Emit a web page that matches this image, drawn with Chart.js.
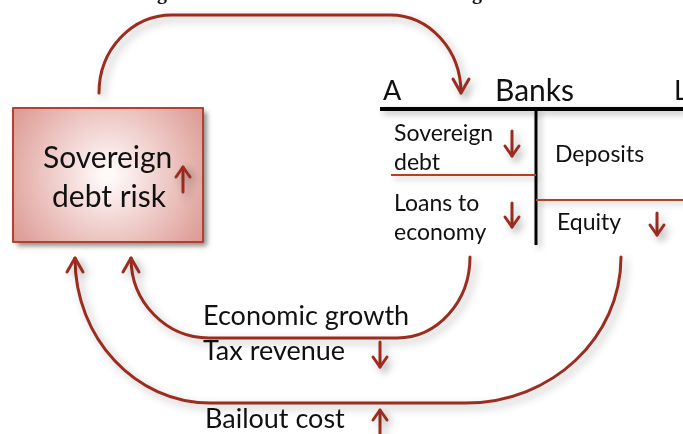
<!DOCTYPE html>
<html>
<head>
<meta charset="utf-8">
<script src="https://cdn.jsdelivr.net/npm/chart.js@4"></script>
<style>
  html, body { margin: 0; padding: 0; background: #fff; }
  canvas { display: block; }
</style>
</head>
<body>
<canvas id="loop" width="683" height="434"></canvas>
<script>
// Feedback loops between sovereign risk and banks (diagram coordinates, y grows downward)
const topLinkX = [99, 99, 461, 461];
const topLinkY = [93, 15, 15, 93];
const topLinkBends = [[78, 73], [71, 78]];

const growthLinkX = [470, 470, 131, 131];
const growthLinkY = [257, 338, 338, 258];
const growthLinkBends = [[81, 73], [78, 80]];

const bailoutLinkX = [621, 621, 75, 75];
const bailoutLinkY = [257, 403, 403, 258];
const bailoutLinkBends = [[146, 155], [135, 145]];

// little up / down arrows: x, y of tail, y of tip
const moveX    = [183, 512, 512, 657, 380, 380];
const moveTail = [192, 131, 203, 213, 342, 440];
const moveTip  = [167, 156, 227, 235, 367, 410];

// balance sheet text
const bankTitle = ['A', 'Banks', 'L'];
const assetLabels = [['Sovereign', 'debt'], ['Loans to', 'economy']];
const liabilityLabels = ['Deposits', 'Equity'];
const riskLabel = ['Sovereign', 'debt risk'];
const channelLabels = ['Economic growth', 'Tax revenue', 'Bailout cost'];

const RED = '#9d2c1f';
const K = 0.5523;

const diagramPlugin = {
  id: 'diagram',
  afterDatasetsDraw(chart) {
    const ctx = chart.ctx;
    const xs = chart.scales.x, ys = chart.scales.y;
    const px = v => xs.getPixelForValue(v);
    const py = v => ys.getPixelForValue(v);
    const unitPx = px(1) - px(0);

    function shadow(on, blur, off, col) {
      ctx.shadowColor = on ? (col || 'rgba(0,0,0,0.35)') : 'transparent';
      ctx.shadowBlur = on ? blur : 0;
      ctx.shadowOffsetX = on ? off : 0;
      ctx.shadowOffsetY = on ? off : 0;
    }

    function chevron(tx, ty, dx, dy, len, half) {
      const nx = -dy, ny = dx;
      ctx.beginPath();
      ctx.moveTo(tx - dx * len + nx * half, ty - dy * len + ny * half);
      ctx.lineTo(tx, ty);
      ctx.lineTo(tx - dx * len - nx * half, ty - dy * len - ny * half);
      ctx.stroke();
    }

    function link(lx, ly, bends) {
      const pts = lx.map((v, i) => [px(v), py(ly[i])]);
      ctx.beginPath();
      ctx.moveTo(pts[0][0], pts[0][1]);
      let lastDir = [0, 1];
      for (let i = 1; i < pts.length - 1; i++) {
        const a = pts[i - 1], c = pts[i], b = pts[i + 1];
        let dIn = [c[0] - a[0], c[1] - a[1]];
        let dOut = [b[0] - c[0], b[1] - c[1]];
        const li = Math.hypot(dIn[0], dIn[1]), lo = Math.hypot(dOut[0], dOut[1]);
        dIn = [dIn[0] / li, dIn[1] / li];
        dOut = [dOut[0] / lo, dOut[1] / lo];
        const rIn = bends[i - 1][0] * unitPx, rOut = bends[i - 1][1] * unitPx;
        const p0 = [c[0] - dIn[0] * rIn, c[1] - dIn[1] * rIn];
        const p3 = [c[0] + dOut[0] * rOut, c[1] + dOut[1] * rOut];
        ctx.lineTo(p0[0], p0[1]);
        ctx.bezierCurveTo(p0[0] + dIn[0] * rIn * K, p0[1] + dIn[1] * rIn * K,
                          p3[0] - dOut[0] * rOut * K, p3[1] - dOut[1] * rOut * K,
                          p3[0], p3[1]);
        lastDir = dOut;
      }
      const end = pts[pts.length - 1];
      ctx.lineTo(end[0], end[1]);
      ctx.stroke();
      chevron(end[0], end[1], lastDir[0], lastDir[1], 14, 8);
    }

    ctx.save();
    ctx.lineCap = 'round';
    ctx.lineJoin = 'round';

    // cut-off title descenders at the very top
    ctx.fillStyle = '#111';
    ctx.font = 'bold 20px "Liberation Serif"';
    ctx.textAlign = 'center';
    ctx.fillText('g', px(162), py(-1));
    ctx.fillText('g', px(477), py(-1));
    ctx.textAlign = 'left';

    // sovereign debt risk box
    const bx0 = px(13), by0 = py(108), bx1 = px(203), by1 = py(242);
    const grad = ctx.createRadialGradient((bx0 + bx1) / 2, (by0 + by1) / 2, 5,
                                          (bx0 + bx1) / 2, (by0 + by1) / 2, 125);
    grad.addColorStop(0, '#fffafa');
    grad.addColorStop(1, '#d98f87');
    shadow(true, 5, 4, 'rgba(0,0,0,0.45)');
    ctx.fillStyle = grad;
    ctx.fillRect(bx0, by0, bx1 - bx0, by1 - by0);
    shadow(false);
    ctx.strokeStyle = '#b3412f';
    ctx.lineWidth = 2;
    ctx.strokeRect(bx0, by0, bx1 - bx0, by1 - by0);

    ctx.fillStyle = '#111';
    ctx.font = '30px Lato';
    ctx.fillText(riskLabel[0], px(43), py(168));
    ctx.fillText(riskLabel[1], px(52), py(207));

    // T-account
    shadow(true, 6, 3, 'rgba(0,0,0,0.3)');
    ctx.strokeStyle = '#000';
    ctx.lineCap = 'butt';
    ctx.lineWidth = 4;
    ctx.beginPath(); ctx.moveTo(px(380), py(109)); ctx.lineTo(px(683), py(109)); ctx.stroke();
    ctx.lineWidth = 3;
    ctx.beginPath(); ctx.moveTo(px(536), py(109)); ctx.lineTo(px(536), py(245)); ctx.stroke();
    ctx.strokeStyle = '#b3431f';
    ctx.lineWidth = 2;
    ctx.beginPath(); ctx.moveTo(px(391), py(175)); ctx.lineTo(px(536), py(175)); ctx.stroke();
    ctx.beginPath(); ctx.moveTo(px(536), py(200)); ctx.lineTo(px(683), py(200)); ctx.stroke();
    shadow(false);

    ctx.fillStyle = '#111';
    ctx.font = '27px Lato';
    ctx.fillText(bankTitle[0], px(383), py(100));
    ctx.font = '30px Lato';
    ctx.fillText(bankTitle[1], px(495), py(101));
    ctx.font = '27px Lato';
    ctx.fillText(bankTitle[2], px(674), py(100));

    ctx.font = '23px Lato';
    ctx.fillText(assetLabels[0][0], px(394), py(141));
    ctx.fillText(assetLabels[0][1], px(394), py(170));
    ctx.fillText(assetLabels[1][0], px(394), py(211));
    ctx.fillText(assetLabels[1][1], px(394), py(240));
    ctx.fillText(liabilityLabels[0], px(555), py(162));
    ctx.fillText(liabilityLabels[1], px(557), py(230));

    ctx.font = '27px Lato';
    ctx.fillText(channelLabels[0], px(203), py(325));
    ctx.fillText(channelLabels[1], px(203), py(360));
    ctx.fillText(channelLabels[2], px(205), py(428));

    // feedback loops
    ctx.lineCap = 'round';
    ctx.strokeStyle = RED;
    ctx.lineWidth = 3;
    shadow(true, 8, 4, 'rgba(0,0,0,0.3)');
    link(topLinkX, topLinkY, topLinkBends);
    link(growthLinkX, growthLinkY, growthLinkBends);
    link(bailoutLinkX, bailoutLinkY, bailoutLinkBends);

    // direction arrows
    ctx.lineWidth = 3;
    moveX.forEach((x, i) => {
      const tx = px(x), t0 = py(moveTail[i]), t1 = py(moveTip[i]);
      ctx.beginPath();
      ctx.moveTo(tx, t0);
      ctx.lineTo(tx, t1);
      ctx.stroke();
      chevron(tx, t1, 0, t1 > t0 ? 1 : -1, 10, 7);
    });
    shadow(false);
    ctx.restore();
  }
};

const pointsOf = (xs, ys) => xs.map((x, i) => ({ x: x, y: ys[i] }));

new Chart(document.getElementById('loop'), {
  type: 'scatter',
  data: {
    datasets: [
      { label: 'Sovereign risk to banks', data: pointsOf(topLinkX, topLinkY) },
      { label: 'Economic growth / tax revenue', data: pointsOf(growthLinkX, growthLinkY) },
      { label: 'Bailout cost', data: pointsOf(bailoutLinkX, bailoutLinkY) }
    ]
  },
  options: {
    responsive: false,
    animation: false,
    devicePixelRatio: 1,
    layout: { padding: 0 },
    elements: { point: { radius: 0, hoverRadius: 0 } },
    scales: {
      x: { type: 'linear', min: 0, max: 683, display: false },
      y: { type: 'linear', min: 0, max: 434, reverse: true, display: false }
    },
    plugins: {
      legend: { display: false },
      tooltip: { enabled: false }
    }
  },
  plugins: [diagramPlugin]
});
</script>
</body>
</html>
